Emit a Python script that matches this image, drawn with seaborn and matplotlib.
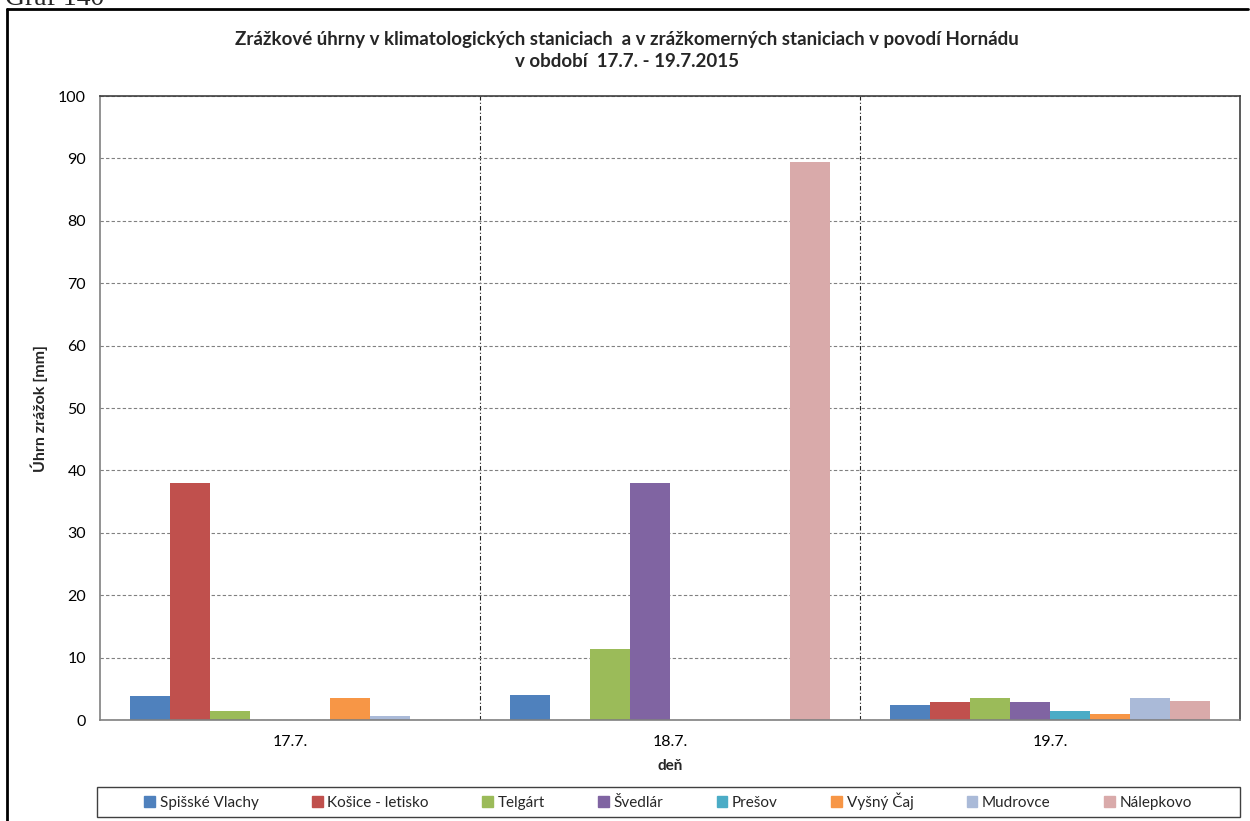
import pandas as pd
import matplotlib
matplotlib.use('Agg')
import matplotlib.pyplot as plt
import seaborn as sns
from matplotlib.lines import Line2D
from matplotlib.patches import Rectangle

# dáta - zrážkové úhrny [mm]
dni = ['17.7.', '18.7.', '19.7.']
stanice = ['Spišské Vlachy', 'Košice - letisko', 'Telgárt', 'Švedlár',
           'Prešov', 'Vyšný Čaj', 'Mudrovce', 'Nálepkovo']
spisske_vlachy = [3.9, 4.0, 2.4]
kosice_letisko = [38.0, 0.0, 2.9]
telgart = [1.4, 11.4, 3.6]
svedlar = [0.0, 38.0, 2.9]
presov = [0.0, 0.0, 1.4]
vysny_caj = [3.5, 0.0, 1.0]
mudrovce = [0.7, 0.0, 3.5]
nalepkovo = [0.0, 89.4, 3.0]

farby = ['#4F81BD', '#C0504D', '#9BBB59', '#8064A2',
         '#4BACC6', '#F79646', '#AABAD8', '#D9AAAA']

hodnoty = [spisske_vlachy, kosice_letisko, telgart, svedlar,
           presov, vysny_caj, mudrovce, nalepkovo]
riadky = []
for st, vals in zip(stanice, hodnoty):
    for d, v in zip(dni, vals):
        riadky.append({'deň': d, 'stanica': st, 'mm': v})
df = pd.DataFrame(riadky)

sns.set_style('white')
plt.rcParams['font.family'] = ['Lato', 'DejaVu Sans']

fig = plt.figure(figsize=(12.5, 8.21), dpi=100)
ax = fig.add_axes([100 / 1250, 1 - 720 / 821, 1140 / 1250, 624 / 821])

sns.barplot(data=df, x='deň', y='mm', hue='stanica', hue_order=stanice,
            order=dni, palette=farby, width=0.84, saturation=1,
            edgecolor='none', ax=ax)

ax.set_ylim(0, 100)
ax.set_yticks(range(0, 101, 10))
ax.set_xlim(-0.5, 2.5)
ax.yaxis.grid(True, linestyle=(0, (3, 2)), color='#808080', linewidth=0.8)
ax.set_axisbelow(True)
for x in [0.5, 1.5]:
    ax.axvline(x, color='#202020', linestyle=(0, (4, 2, 1, 2)), linewidth=0.8, zorder=0)
for s in ax.spines.values():
    s.set_color('#808080')
    s.set_linewidth(1.2)
ax.spines['top'].set_color('#404040')
ax.spines['right'].set_color('#404040')
ax.tick_params(axis='both', length=0, labelsize=11.5, colors='black')
ax.tick_params(axis='y', pad=10)
ax.tick_params(axis='x', pad=11)

ax.set_ylabel('Úhrn zrážok [mm]', fontsize=11.5, fontweight='bold', labelpad=7)
ax.set_xlabel('deň', fontsize=11, fontweight='bold', labelpad=7)

fig.suptitle('Zrážkové úhrny v klimatologických staniciach  a v zrážkomerných staniciach v povodí Hornádu\n'
             'v období  17.7. - 19.7.2015',
             x=627 / 1250, y=1 - 31 / 821, fontsize=13.5, fontweight='bold',
             linespacing=1.35, va='top')

ax.get_legend().remove()
handles = [plt.Rectangle((0, 0), 1, 1, color=c) for c in farby]
leg = fig.legend(handles, stanice, ncol=8, loc='center',
                 bbox_to_anchor=(668 / 1250, 1 - 801 / 821),
                 frameon=False, fontsize=11, handlelength=0.7, handleheight=0.7,
                 handletextpad=0.3, columnspacing=3.5, borderpad=0.3)
# rám legendy
fig.add_artist(Rectangle((97 / 1250, 1 - 817 / 821), 1143 / 1250, 30 / 821,
                         transform=fig.transFigure, fill=False,
                         edgecolor='#404040', linewidth=1.0))

# vonkajší rám a orezaný nadpis grafu
fig.add_artist(Line2D([7 / 1250, 7 / 1250], [0, 1 - 9 / 821], color='black', linewidth=2))
fig.add_artist(Line2D([7 / 1250, 1248 / 1250], [1 - 9 / 821, 1 - 9 / 821], color='black', linewidth=2))
fig.text(5 / 1250, 1 - 5 / 821, 'Graf 140', family='Liberation Serif', fontsize=20, va='baseline')

fig.savefig('out.png', dpi=100)
